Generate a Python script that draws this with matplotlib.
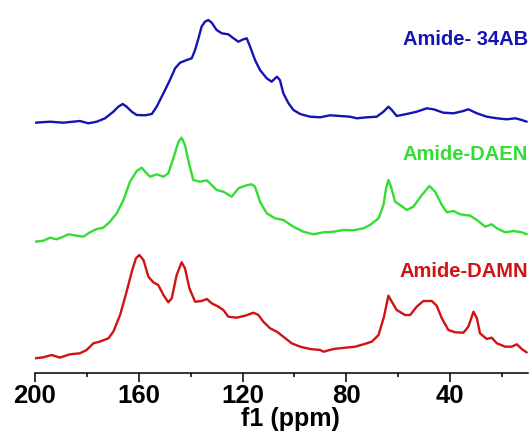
import matplotlib
matplotlib.use("Agg")
import matplotlib.pyplot as plt
from matplotlib.ticker import MultipleLocator

plt.rcParams['font.family'] = ['Liberation Sans', 'DejaVu Sans']
plt.rcParams['font.weight'] = 'bold'

# 13C CP/MAS spectra, chemical shift (ppm) and intensity (a.u.)
ppm_34ab = [200.0, 194.2, 189.1, 182.7, 179.4, 176.2, 173.0, 169.8, 167.9, 166.2,
            164.7, 162.7, 160.8, 157.6, 155.0, 153.1, 150.5, 148.0, 146.0, 144.1,
            141.5, 139.6, 138.3, 137.0, 135.8, 134.5, 133.2, 131.9, 130.0, 128.0,
            125.5, 123.5, 121.6, 119.7, 118.4, 117.1, 115.2, 113.3, 110.7, 108.8,
            106.8, 105.6, 104.3, 102.3, 100.4, 97.8, 94.0, 90.1, 86.3, 82.4,
            78.6, 76.0, 72.1, 68.3, 65.7, 63.8, 62.5, 60.6, 56.7, 52.9,
            49.0, 46.4, 42.6, 38.7, 34.9, 33.0, 29.7, 25.9, 22.0, 18.2,
            14.9, 12.4, 10.5]
int_34ab = [0.0, 1.0, 0.0, 1.7, -0.6, 1.0, 4.4, 11.0, 16.0, 18.7,
            16.0, 11.0, 7.7, 7.4, 8.7, 16.0, 29.4, 42.7, 54.4, 60.0,
            62.7, 64.4, 72.7, 84.4, 96.0, 101.0, 102.7, 100.0, 92.7, 89.4,
            88.4, 84.4, 81.0, 83.4, 84.4, 76.0, 62.7, 52.7, 44.4, 41.0,
            46.0, 42.7, 29.4, 19.4, 12.7, 8.7, 6.0, 5.4, 7.4, 6.7,
            6.0, 4.4, 5.4, 6.0, 11.0, 16.0, 12.7, 6.7, 8.7, 11.0,
            14.4, 13.4, 10.0, 9.4, 11.7, 13.4, 9.4, 6.0, 4.4, 3.4,
            4.4, 2.7, 1.0]

ppm_daen = [200.0, 196.8, 194.2, 191.7, 189.1, 187.2, 184.0, 181.4, 178.8, 176.2,
            173.7, 171.1, 168.5, 165.9, 163.4, 160.8, 158.9, 157.0, 155.7, 153.1,
            150.5, 148.6, 146.7, 144.7, 143.5, 142.2, 140.5, 139.0, 136.4, 133.8,
            131.9, 130.0, 127.4, 124.2, 121.6, 119.0, 116.5, 115.2, 113.3, 110.7,
            107.5, 104.3, 100.4, 96.6, 92.7, 88.8, 85.0, 81.1, 77.3, 73.4,
            70.9, 67.6, 65.7, 64.7, 63.8, 62.8, 61.2, 59.3, 56.7, 54.2,
            50.9, 48.0, 45.8, 43.2, 41.3, 38.7, 36.2, 32.3, 29.7, 26.5,
            24.0, 22.0, 18.8, 15.6, 12.4, 10.5]
int_daen = [0.0, 1.0, 4.0, 2.4, 5.0, 7.4, 6.0, 5.0, 9.4, 12.7,
            14.0, 20.0, 28.4, 41.7, 60.0, 70.7, 74.0, 68.4, 65.0, 67.4,
            65.0, 68.4, 83.4, 100.0, 104.0, 96.7, 76.7, 61.7, 60.0, 61.4,
            56.7, 51.7, 50.0, 45.0, 53.4, 56.0, 57.4, 55.0, 40.0, 28.4,
            23.4, 21.7, 15.0, 10.0, 7.4, 9.4, 10.0, 11.7, 11.4, 13.4,
            16.7, 23.4, 36.7, 53.4, 61.7, 55.0, 40.0, 36.7, 31.7, 35.0,
            46.7, 55.7, 50.0, 36.7, 29.4, 30.7, 27.4, 26.0, 21.7, 15.0,
            17.4, 13.4, 9.4, 10.7, 9.4, 7.4]

ppm_damn = [200.0, 196.8, 193.6, 190.4, 186.5, 182.7, 180.1, 177.5, 175.0, 171.7,
            169.8, 167.2, 164.7, 162.7, 161.1, 159.8, 158.2, 156.3, 154.4, 152.5,
            150.5, 148.6, 147.3, 145.4, 143.5, 142.2, 140.5, 138.3, 135.8, 133.8,
            131.9, 129.3, 127.4, 125.5, 122.3, 119.0, 115.8, 113.9, 112.0, 109.4,
            106.8, 104.3, 101.1, 97.8, 94.0, 90.1, 88.8, 85.0, 80.5, 76.6,
            73.4, 70.2, 67.6, 65.5, 63.8, 62.5, 60.6, 57.4, 55.4, 52.9,
            50.3, 47.1, 45.2, 43.2, 40.7, 38.1, 34.9, 33.0, 31.0, 29.7,
            28.5, 25.9, 24.0, 22.0, 18.8, 16.3, 14.3, 12.4, 10.5]
int_damn = [0.0, 1.0, 3.3, 0.7, 4.0, 5.0, 8.3, 15.0, 16.7, 20.0,
            26.7, 43.3, 66.6, 86.6, 100.0, 103.3, 98.3, 81.6, 76.0, 73.3,
            63.3, 56.0, 60.0, 83.3, 96.0, 90.0, 70.0, 56.6, 57.3, 59.3,
            55.0, 51.6, 48.3, 41.6, 40.6, 42.6, 45.6, 43.3, 36.6, 30.0,
            26.6, 21.6, 15.0, 11.6, 9.3, 8.3, 6.6, 9.3, 10.6, 11.6,
            14.0, 16.6, 23.3, 41.6, 62.6, 56.6, 48.3, 43.3, 43.3, 51.6,
            57.3, 57.3, 52.6, 40.0, 28.3, 26.0, 25.6, 31.6, 46.6, 40.0,
            25.0, 19.3, 20.6, 15.0, 11.6, 11.6, 14.0, 9.3, 5.9]

names = ['Amide- 34AB', 'Amide-DAEN', 'Amide-DAMN']
colors = ['#1414B0', '#33DD33', '#D01212']

# vertical stacking of the traces and label baselines
offsets = [250.3, 131.3, 14.7]
label_y = [328, 213, 95.7]

fig = plt.figure(figsize=(5.31, 4.33), dpi=100)
ax = fig.add_axes([35 / 531, 60 / 433, 493 / 531, 373 / 433])

spectra = [(ppm_34ab, int_34ab), (ppm_daen, int_daen), (ppm_damn, int_damn)]
for (x, y), name, c, off, ly in zip(spectra, names, colors, offsets, label_y):
    ax.plot(x, [v + off for v in y], color=c, lw=1.7,
            solid_joinstyle='round', solid_capstyle='round')
    ax.text(10, ly, name, color=c, fontsize=14.5, fontweight='bold',
            ha='right', va='baseline')

ax.set_xlim(200, 10)
ax.set_ylim(0, 373)
ax.xaxis.set_minor_locator(MultipleLocator(20))
ax.set_xticks([200, 160, 120, 80, 40])
ax.tick_params(axis='x', which='major', length=6.5, width=1.1, pad=1.5,
               labelsize=18.5)
ax.tick_params(axis='x', which='minor', length=3, width=1.1)
ax.set_yticks([])
for s in ['left', 'right', 'top']:
    ax.spines[s].set_visible(False)
ax.spines['bottom'].set_linewidth(1.1)

ax.set_xlabel('f1 (ppm)', fontsize=18, fontweight='bold')
ax.xaxis.set_label_coords(0.519, -0.143, transform=ax.transAxes)
ax.xaxis.label.set_va('baseline')

fig.savefig('out.png', dpi=100)
